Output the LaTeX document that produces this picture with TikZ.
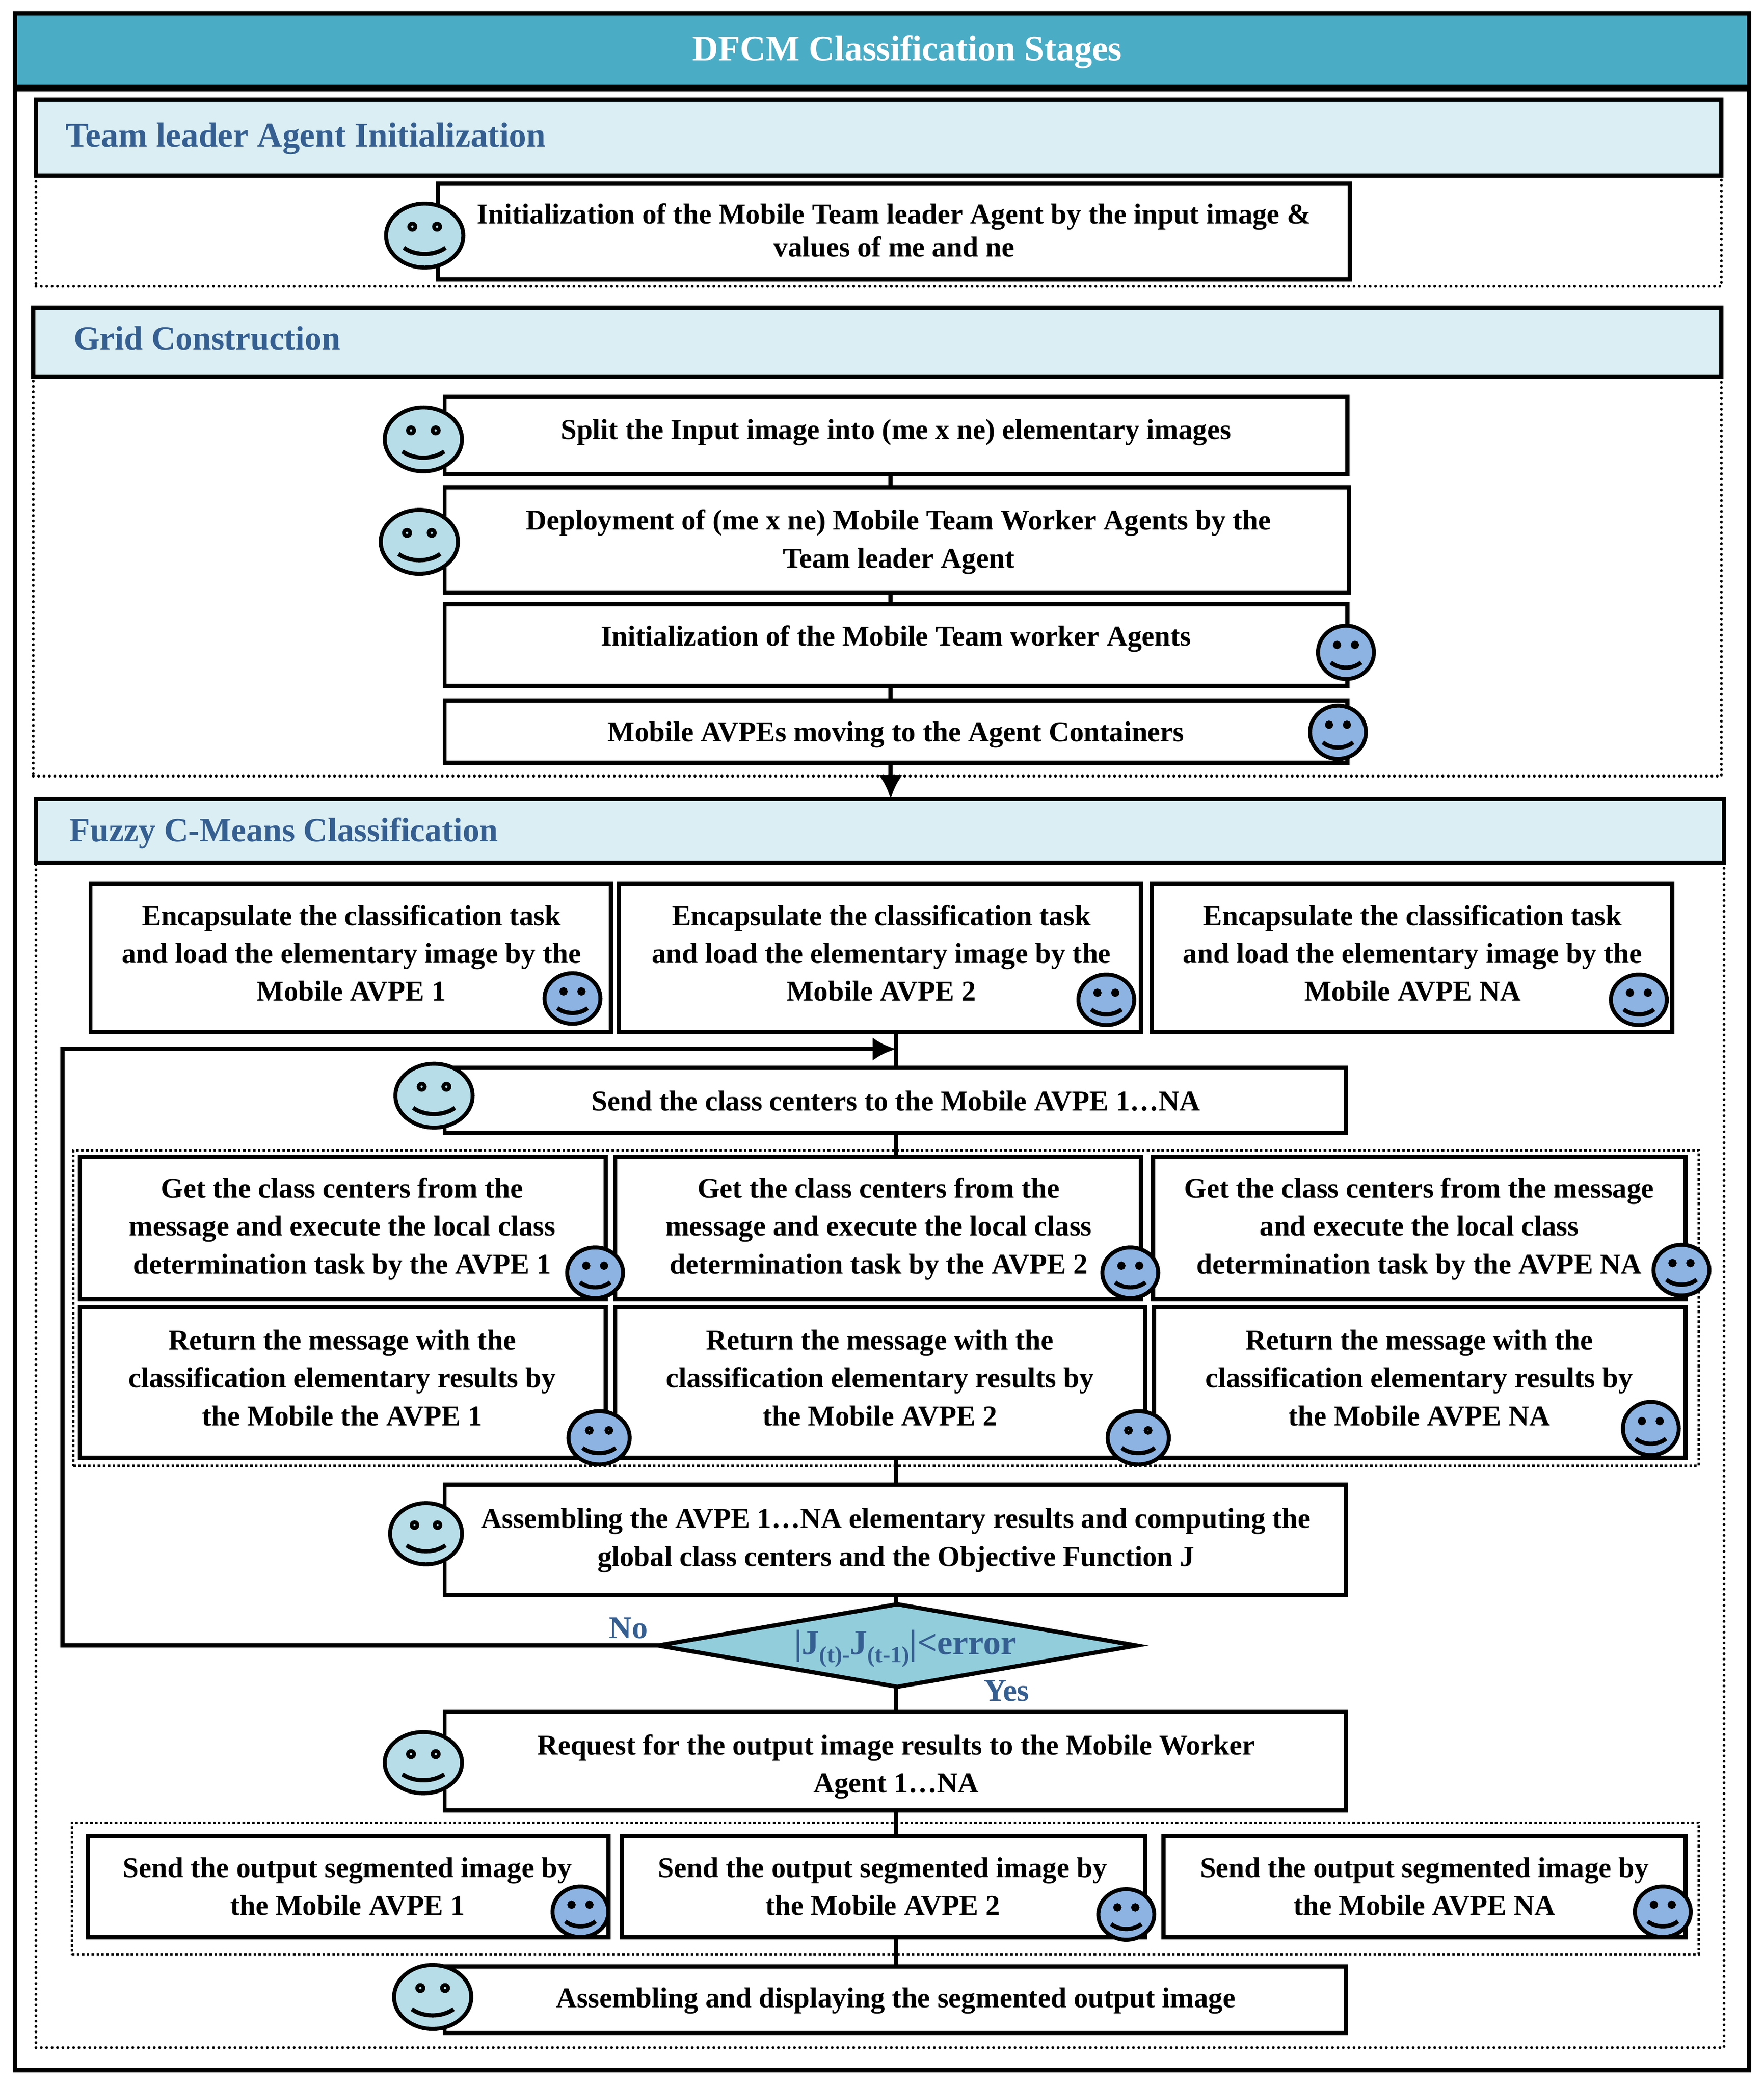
\documentclass[tikz,border=0pt]{standalone}
\usepackage{fontspec}
\setmainfont{Liberation Serif}
\usetikzlibrary{arrows.meta,shapes.geometric}
\definecolor{band}{HTML}{4BACC6}
\definecolor{head}{HTML}{DAEEF3}
\definecolor{headtxt}{HTML}{365F91}
\definecolor{dia}{HTML}{92CDDC}
\definecolor{lface}{HTML}{B7DDE8}
\definecolor{bface}{HTML}{8DB3E2}
\tikzset{
  frameline/.style={draw=black,line width=1.8pt},
  boxnode/.style={frameline,fill=white,inner sep=0pt,outer sep=0pt},
  headnode/.style={frameline,fill=head,inner sep=0pt,outer sep=0pt},
  dotbox/.style={draw=black,line width=1.2pt,line cap=round,dash pattern=on 0pt off 2.3pt,inner sep=0pt,outer sep=0pt},
  dotgroup/.style={draw=black,line width=1.1pt,densely dotted,inner sep=0pt,outer sep=0pt},
  txt/.style={font=\bfseries\fontsize{12.27}{16.2}\selectfont,align=center,inner sep=0pt},
  txtnarrow/.style={font=\bfseries\fontsize{12.27}{14.2}\selectfont,align=center,inner sep=0pt},
  headtext/.style={font=\bfseries\fontsize{14.4}{16}\selectfont,text=headtxt,anchor=west,inner sep=0pt},
  link/.style={draw=black,line width=1.8pt},
  face/.style={draw=black,line width=1.7pt},
}
% rectangle node from corners: style, name, x1,y1,x2,y2
\newcommand{\rectn}[6]{\node[#1,minimum width={(#5-#3)*0.02cm},minimum height={(#6-#4)*0.02cm}] (#2) at ({(#3+#5)/2},{(#4+#6)/2}) {};}
% smiley: x,y,rx,ry,colour
\newcommand{\smiley}[5]{%
  \draw[face,fill=#5] (#1,#2) ellipse [x radius=#3*0.02cm,y radius=#4*0.02cm];
  \draw[line width=1.6pt,fill=#5] ({#1-0.32*#3},{#2-0.28*#4}) circle [radius=0.08*#3*0.02cm];
  \draw[line width=1.6pt,fill=#5] ({#1+0.32*#3},{#2-0.28*#4}) circle [radius=0.08*#3*0.02cm];
  \draw[line width=1.8pt] ({#1-0.54*#3},{#2+0.38*#4}) .. controls ({#1-0.25*#3},{#2+0.64*#4}) and ({#1+0.25*#3},{#2+0.64*#4}) .. ({#1+0.54*#3},{#2+0.38*#4});
}
\newcommand{\lowsub}[1]{\raisebox{-3.4pt}{\fontsize{9.8}{10}\selectfont #1}}
\begin{document}
\begin{tikzpicture}[x=0.02cm,y=-0.02cm]
\useasboundingbox (0,0) rectangle (1325,1567.63);
% outer frame
\rectn{boxnode}{outer}{11}{10}{1314}{1555}
\rectn{frameline,fill=band,inner sep=0pt,outer sep=0pt}{band}{11}{10}{1314}{66}
\draw[line width=3pt] (band.south west) -- (band.south east);
\node[font=\bfseries\fontsize{15.3}{16}\selectfont,text=white,inner sep=0pt] (title) at (681.5,39) {DFCM Classification Stages};

% section frames
\rectn{dotbox}{d1}{27}{100}{1293}{215}
\rectn{dotbox}{d2}{25}{260}{1293}{583}
\rectn{dotbox}{d3}{27}{620}{1295}{1538}
\rectn{headnode}{h1}{27}{75}{1293}{132}
\rectn{headnode}{h2}{25}{231}{1293}{283}
\rectn{headnode}{h3}{27}{600}{1295}{648}
\node[headtext,font=\bfseries\fontsize{14.85}{16}\selectfont] (h1t) at (49,104) {Team leader Agent Initialization};
\node[headtext] (h2t) at (55,254) {Grid Construction};
\node[headtext] (h3t) at (52,626) {Fuzzy C-Means Classification};

% team leader
\rectn{boxnode}{a1}{329}{138}{1014}{210}
\node[txtnarrow] (a1t) at (671.5,173) {Initialization of the Mobile Team leader Agent by the input image \&\\values of me and ne};

% grid construction
\rectn{boxnode}{g1}{334}{298}{1012}{356}
\rectn{boxnode}{g2}{334}{366}{1013}{445}
\rectn{boxnode}{g3}{334}{454}{1012}{515}
\rectn{boxnode}{g4}{334}{526}{1012}{573}
\node[txt] (g1t) at (673,325) {Split the Input image into (me x ne) elementary images};
\node[txt] (g2t) at (675,407) {Deployment of (me x ne) Mobile Team Worker Agents by the\\Team leader Agent};
\node[txt] (g3t) at (673,480) {Initialization of the Mobile Team worker Agents};
\node[txt] (g4t) at (673,552) {Mobile AVPEs moving to the Agent Containers};
\coordinate (gx) at (669,0);
\draw[link] (g1.south -| gx) -- (g2.north -| gx);
\draw[link] (g2.south -| gx) -- (g3.north -| gx);
\draw[link] (g3.south -| gx) -- (g4.north -| gx);
\draw[link,-{Latex[length=10pt,width=10pt]}] (g4.south -| gx) -- (h3.north -| gx);

% encapsulate row
\rectn{boxnode}{e1}{68}{664}{459}{775}
\rectn{boxnode}{e2}{465}{664}{857}{775}
\rectn{boxnode}{e3}{865}{664}{1256}{775}
\node[txt] (e1t) at (264,716) {Encapsulate the classification task\\and load the elementary image by the\\Mobile AVPE 1};
\node[txt] (e2t) at (662,716) {Encapsulate the classification task\\and load the elementary image by the\\Mobile AVPE 2};
\node[txt] (e3t) at (1061,716) {Encapsulate the classification task\\and load the elementary image by the\\Mobile AVPE NA};

% send centres
\rectn{boxnode}{s1}{334}{802}{1011}{851}
\node[txt] (s1t) at (673,827) {Send the class centers to the Mobile AVPE 1…NA};

% inner dotted group
\rectn{dotgroup}{d4}{55}{864}{1276}{1101}
\rectn{boxnode}{c1}{60}{869}{455}{976}
\rectn{boxnode}{c2}{462}{869}{857}{976}
\rectn{boxnode}{c3}{866}{869}{1266}{976}
\node[txt] (c1t) at (257,923) {Get the class centers from the\\message and execute the local class\\determination task by the AVPE 1};
\node[txt] (c2t) at (660,923) {Get the class centers from the\\message and execute the local class\\determination task by the AVPE 2};
\node[txt] (c3t) at (1066,923) {Get the class centers from the message\\and execute the local class\\determination task by the AVPE NA};
\rectn{boxnode}{r1}{60}{982}{455}{1095}
\rectn{boxnode}{r2}{462}{982}{860}{1095}
\rectn{boxnode}{r3}{867}{982}{1266}{1095}
\node[txt] (r1t) at (257,1035) {Return the message with the\\classification elementary results by\\the Mobile the AVPE 1};
\node[txt] (r2t) at (661,1035) {Return the message with the\\classification elementary results by\\the Mobile AVPE 2};
\node[txt] (r3t) at (1066,1035) {Return the message with the\\classification elementary results by\\the Mobile AVPE NA};

% assemble
\rectn{boxnode}{m1}{334}{1115}{1011}{1198}
\node[txt] (m1t) at (673,1157) {Assembling the AVPE 1…NA elementary results and computing the\\global class centers and the Objective Function J};

% decision
\node[diamond,draw=black,line width=1.8pt,fill=dia,aspect=5.7,inner sep=0pt,outer sep=0pt,minimum width={359*0.02cm},minimum height={62*0.02cm}] (dec) at (674,1236) {};
\node[font=\bfseries\fontsize{15}{16}\selectfont,text=headtxt,inner sep=0pt] (dect) at (680,1238.5) {|J\lowsub{(t)-}J\lowsub{(t-1)}|<error};
\node[font=\bfseries\fontsize{13.5}{16}\selectfont,text=headtxt,inner sep=0pt] (no) at (472,1223) {No};
\node[font=\bfseries\fontsize{13.5}{16}\selectfont,text=headtxt,inner sep=0pt] (yes) at (756,1270) {Yes};

% request
\rectn{boxnode}{q1}{334}{1286}{1011}{1360}
\node[txt] (q1t) at (673,1327) {Request for the output image results to the Mobile Worker\\Agent 1…NA};

% output group
\rectn{dotgroup}{d5}{54}{1369}{1276}{1468}
\rectn{boxnode}{o1}{66}{1379}{457}{1455}
\rectn{boxnode}{o2}{467}{1379}{860}{1455}
\rectn{boxnode}{o3}{874}{1379}{1266}{1455}
\node[txt] (o1t) at (261,1417) {Send the output segmented image by\\the Mobile AVPE 1};
\node[txt] (o2t) at (663,1417) {Send the output segmented image by\\the Mobile AVPE 2};
\node[txt] (o3t) at (1070,1417) {Send the output segmented image by\\the Mobile AVPE NA};

% final
\rectn{boxnode}{f1}{334}{1477}{1011}{1527}
\node[txt] (f1t) at (673,1503) {Assembling and displaying the segmented output image};

% connectors
\coordinate (mx) at (673,0);
\coordinate (lx) at (47,0);
\coordinate (ly) at (0,788);
\draw[link] (e2.south -| mx) -- (s1.north -| mx);
\draw[link,-{Latex[length=10pt,width=10pt]}] (dec.west) -- (dec.west -| lx) -- (ly -| lx) -- (ly -| mx);
\draw[link] (s1.south -| mx) -- (c2.north -| mx);
\draw[link] (r2.south -| mx) -- (m1.north -| mx);
\draw[link] (m1.south -| mx) -- (dec.north -| mx);
\draw[link] (dec.south -| mx) -- (q1.north -| mx);
\draw[link] (q1.south -| mx) -- (o2.north -| mx);
\draw[link] (o2.south -| mx) -- (f1.north -| mx);

% agents
\smiley{319}{177}{29}{24}{lface}
\smiley{318}{330}{29}{24}{lface}
\smiley{315}{407}{29}{24}{lface}
\smiley{1011}{490}{21}{20}{bface}
\smiley{1005}{550}{21}{20}{bface}
\smiley{430}{750}{21}{19}{bface}
\smiley{831}{751}{21}{19}{bface}
\smiley{1231}{751}{21}{19}{bface}
\smiley{326}{823}{29}{24}{lface}
\smiley{447}{956}{21}{19}{bface}
\smiley{849}{956}{21}{19}{bface}
\smiley{1263}{954}{21}{19}{bface}
\smiley{450}{1080}{23}{20}{bface}
\smiley{855}{1080}{23}{20}{bface}
\smiley{1240}{1073}{21}{20}{bface}
\smiley{320}{1152}{27}{23}{lface}
\smiley{318}{1324}{29}{23}{lface}
\smiley{436}{1436}{21}{19}{bface}
\smiley{846}{1438}{21}{19}{bface}
\smiley{1249}{1436}{21}{19}{bface}
\smiley{325}{1500}{29}{24}{lface}
\end{tikzpicture}
\end{document}
